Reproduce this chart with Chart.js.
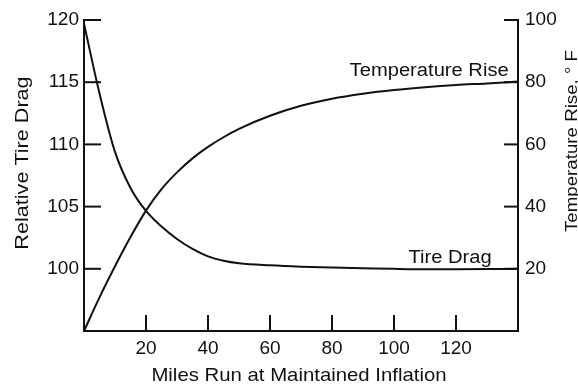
<!DOCTYPE html>
<html>
<head>
<meta charset="utf-8">
<script src="https://cdn.jsdelivr.net/npm/chart.js@4/dist/chart.umd.min.js"></script>
<style>
html,body{margin:0;padding:0;background:#fff;}
#wrap{width:578px;height:385px;position:relative;}
</style>
</head>
<body>
<div id="wrap"><canvas id="c" width="578" height="385"></canvas></div>
<script>
// ---- data ----
const miles = [0,5,10,15,20,25,30,35,40,45,50,60,70,80,90,100,110,120,130,140];
const tireDrag = [119.7,114.1,109.4,106.5,104.65,103.4,102.4,101.6,101.0,100.65,100.45,100.28,100.17,100.1,100.05,100.0,99.97,99.97,99.98,100.0];
const tempRise = [0,10.8,20.8,30.2,38.7,45.6,51.0,55.5,59.2,62.3,65.0,69.2,72.4,74.7,76.3,77.5,78.4,79.1,79.6,80.2];
const xTicks = [20,40,60,80,100,120];
const dragTicks = [100,105,110,115,120];
const tempTicks = [20,40,60,80,100];

const INK = '#111';
const FONT = 'Liberation Sans, Arial, Helvetica, sans-serif';

function pts(xs, ys){ return xs.map((x,i)=>({x:x, y:ys[i]})); }

const textPlugin = {
  id: 'texts',
  afterDraw(chart){
    const ctx = chart.ctx;
    const xs = chart.scales.x, yl = chart.scales.y, yr = chart.scales.y1;
    ctx.save();
    ctx.strokeStyle = INK;
    ctx.lineWidth = 2;
    // inward tick marks
    xTicks.forEach(v=>{
      const px = xs.getPixelForValue(v);
      ctx.beginPath(); ctx.moveTo(px, xs.top); ctx.lineTo(px, xs.top-16); ctx.stroke();
    });
    dragTicks.forEach(v=>{
      const py = yl.getPixelForValue(v);
      ctx.beginPath(); ctx.moveTo(yl.right, py); ctx.lineTo(yl.right+17, py); ctx.stroke();
    });
    tempTicks.forEach(v=>{
      const py = yr.getPixelForValue(v);
      ctx.beginPath(); ctx.moveTo(yr.left, py); ctx.lineTo(yr.left-14, py); ctx.stroke();
    });
    ctx.fillStyle = INK;
    function txt(s, x, y, size, stretch, align, rot){
      ctx.save();
      ctx.translate(x, y);
      if (rot) ctx.rotate(rot);
      ctx.scale(stretch, 1);
      ctx.font = size + 'px ' + FONT;
      ctx.textAlign = align;
      ctx.textBaseline = 'alphabetic';
      ctx.fillText(s, 0, 0);
      ctx.restore();
    }
    // axis titles
    txt('Miles Run at Maintained Inflation', (chart.chartArea.left+chart.chartArea.right)/2 - 2, 381, 18.5, 1.1, 'center', 0);
    txt('Relative Tire Drag', 28, 163, 18, 1.2, 'center', -Math.PI/2);
    txt('Temperature Rise, \u00B0 F', 577, 141, 17, 1.1, 'center', -Math.PI/2);
    // curve labels anchored to data coordinates
    txt('Temperature Rise', xs.getPixelForValue(137), yr.getPixelForValue(82), 18, 1.12, 'right', 0);
    txt('Tire Drag', xs.getPixelForValue(131.5), yl.getPixelForValue(100.5), 18, 1.12, 'right', 0);
    ctx.restore();
  }
};

const tickFont = {family: FONT, size: 19};

new Chart(document.getElementById('c'), {
  type: 'line',
  data: {
    datasets: [
      {label:'Tire Drag', data: pts(miles, tireDrag), yAxisID:'y', borderColor:INK, borderWidth:2, pointRadius:0, cubicInterpolationMode:'monotone', fill:false, clip:false},
      {label:'Temperature Rise', data: pts(miles, tempRise), yAxisID:'y1', borderColor:INK, borderWidth:2, pointRadius:0, cubicInterpolationMode:'monotone', fill:false, clip:false}
    ]
  },
  options: {
    responsive:false, animation:false, devicePixelRatio:1,
    layout:{padding:{top:20,left:0,right:0,bottom:0}},
    plugins:{legend:{display:false}, tooltip:{enabled:false}},
    scales:{
      x:{type:'linear', min:0, max:140, position:'bottom',
         afterBuildTicks(s){ s.ticks = xTicks.map(v=>({value:v})); },
         afterFit(s){ s.height = 54; },
         grid:{display:true, drawOnChartArea:false, drawTicks:false},
         border:{display:true, color:INK, width:2},
         ticks:{color:INK, font:tickFont, padding:6, maxRotation:0, autoSkip:false}},
      y:{type:'linear', min:95, max:120, position:'left',
         afterBuildTicks(s){ s.ticks = dragTicks.map(v=>({value:v})); },
         afterFit(s){ s.width = 84; },
         grid:{display:true, drawOnChartArea:false, drawTicks:false},
         border:{display:true, color:INK, width:2},
         ticks:{color:INK, font:tickFont, padding:5, autoSkip:false}},
      y1:{type:'linear', min:0, max:100, position:'right',
         afterBuildTicks(s){ s.ticks = tempTicks.map(v=>({value:v})); },
         afterFit(s){ s.width = 60; },
         grid:{display:true, drawOnChartArea:false, drawTicks:false},
         border:{display:true, color:INK, width:2},
         ticks:{color:INK, font:tickFont, padding:7, autoSkip:false}}
    }
  },
  plugins:[textPlugin]
});
</script>
</body>
</html>
